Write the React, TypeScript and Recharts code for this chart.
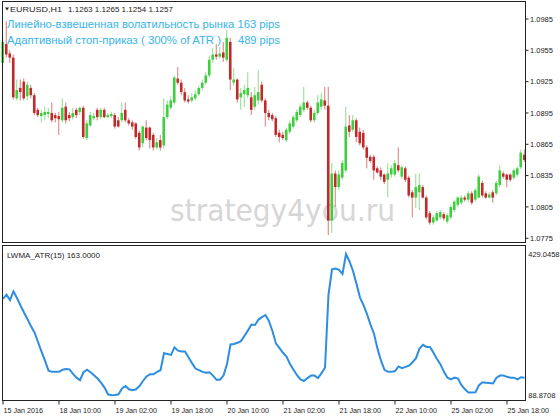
import { ComposedChart, Bar, Line, XAxis, YAxis } from 'recharts';

// EURUSD H1, one entry per bar (bar 0 = 15 Jan 18:00)
const OPEN = [
  1.0943, 1.0961, 1.0952, 1.0948, 1.0909, 1.0919, 1.0925, 1.0911, 1.0919, 1.0912,
  1.0898, 1.0892, 1.0893, 1.0894, 1.0895, 1.0893, 1.0892, 1.0888, 1.0901, 1.0893,
  1.0891, 1.0898, 1.0896, 1.0900, 1.0871, 1.0883, 1.0890, 1.0898, 1.0891, 1.0898,
  1.0891, 1.0892, 1.0893, 1.0888, 1.0888, 1.0898, 1.0888, 1.0886, 1.0885, 1.0876,
  1.0866, 1.0881, 1.0881, 1.0874, 1.0862, 1.0869, 1.0864, 1.0891, 1.0900, 1.0905,
  1.0928, 1.0924, 1.0915, 1.0908, 1.0907, 1.0909, 1.0913, 1.0919, 1.0924, 1.0931,
  1.0946, 1.0951, 1.0949, 1.0953, 1.0946, 1.0963, 1.0924, 1.0927, 1.0910, 1.0913,
  1.0912, 1.0910, 1.0901, 1.0907, 1.0922, 1.0907, 1.0895, 1.0893, 1.0890, 1.0876,
  1.0874, 1.0869, 1.0877, 1.0882, 1.0888, 1.0893, 1.0898, 1.0905, 1.0900, 1.0888,
  1.0895, 1.0901, 1.0907, 1.0902, 1.0792, 1.0837, 1.0824, 1.0833, 1.0840, 1.0883,
  1.0879, 1.0888, 1.0877, 1.0876, 1.0862, 1.0853, 1.0853, 1.0842, 1.0840, 1.0836,
  1.0831, 1.0836, 1.0836, 1.0845, 1.0834, 1.0842, 1.0833, 1.0819, 1.0814, 1.0819,
  1.0824, 1.0814, 1.0799, 1.0790, 1.0792, 1.0795, 1.0798, 1.0791, 1.0795, 1.0802,
  1.0807, 1.0809, 1.0814, 1.0812, 1.0818, 1.0812, 1.0814, 1.0828, 1.0818, 1.0814,
  1.0819, 1.0818, 1.0826, 1.0837, 1.0836, 1.0836, 1.0833, 1.0836, 1.0843, 1.0855,
];

const HIGH = [
  1.0968, 1.0983, 1.0955, 1.0951, 1.0927, 1.0927, 1.0928, 1.0925, 1.0922, 1.0914,
  1.0900, 1.0898, 1.0901, 1.0900, 1.0905, 1.0895, 1.0896, 1.0909, 1.0905, 1.0896,
  1.0900, 1.0900, 1.0901, 1.0902, 1.0888, 1.0896, 1.0895, 1.0900, 1.0900, 1.0900,
  1.0895, 1.0896, 1.0895, 1.0891, 1.0905, 1.0905, 1.0890, 1.0888, 1.0886, 1.0878,
  1.0883, 1.0888, 1.0882, 1.0876, 1.0871, 1.0874, 1.0909, 1.0907, 1.0911, 1.0931,
  1.0939, 1.0927, 1.0919, 1.0912, 1.0914, 1.0917, 1.0921, 1.0927, 1.0934, 1.0950,
  1.0957, 1.0961, 1.0958, 1.0963, 1.0975, 1.0967, 1.0938, 1.0928, 1.0919, 1.0922,
  1.0934, 1.0915, 1.0920, 1.0936, 1.0925, 1.0909, 1.0898, 1.0895, 1.0892, 1.0879,
  1.0877, 1.0881, 1.0888, 1.0893, 1.0898, 1.0903, 1.0920, 1.0907, 1.0902, 1.0898,
  1.0912, 1.0914, 1.0920, 1.0920, 1.0847, 1.0840, 1.0840, 1.0850, 1.0901, 1.0893,
  1.0893, 1.0890, 1.0881, 1.0879, 1.0864, 1.0855, 1.0855, 1.0844, 1.0843, 1.0837,
  1.0847, 1.0845, 1.0850, 1.0862, 1.0845, 1.0844, 1.0835, 1.0821, 1.0837, 1.0837,
  1.0826, 1.0816, 1.0801, 1.0797, 1.0801, 1.0802, 1.0800, 1.0799, 1.0807, 1.0812,
  1.0815, 1.0816, 1.0816, 1.0820, 1.0820, 1.0823, 1.0836, 1.0830, 1.0820, 1.0819,
  1.0821, 1.0830, 1.0845, 1.0839, 1.0837, 1.0837, 1.0842, 1.0844, 1.0860, 1.0860,
];

const LOW = [
  1.0941, 1.0948, 1.0943, 1.0908, 1.0907, 1.0907, 1.0907, 1.0907, 1.0909, 1.0893,
  1.0891, 1.0886, 1.0888, 1.0890, 1.0886, 1.0886, 1.0874, 1.0886, 1.0885, 1.0887,
  1.0889, 1.0890, 1.0893, 1.0870, 1.0869, 1.0882, 1.0888, 1.0888, 1.0889, 1.0890,
  1.0890, 1.0890, 1.0880, 1.0881, 1.0886, 1.0886, 1.0883, 1.0879, 1.0870, 1.0859,
  1.0862, 1.0869, 1.0861, 1.0859, 1.0860, 1.0859, 1.0861, 1.0889, 1.0898, 1.0903,
  1.0922, 1.0912, 1.0905, 1.0904, 1.0905, 1.0907, 1.0911, 1.0917, 1.0922, 1.0929,
  1.0943, 1.0946, 1.0947, 1.0944, 1.0944, 1.0917, 1.0921, 1.0905, 1.0898, 1.0901,
  1.0909, 1.0893, 1.0898, 1.0903, 1.0905, 1.0882, 1.0888, 1.0887, 1.0872, 1.0867,
  1.0869, 1.0867, 1.0875, 1.0880, 1.0886, 1.0891, 1.0896, 1.0898, 1.0886, 1.0886,
  1.0893, 1.0898, 1.0898, 1.0778, 1.0780, 1.0805, 1.0821, 1.0831, 1.0838, 1.0872,
  1.0877, 1.0867, 1.0864, 1.0860, 1.0842, 1.0847, 1.0831, 1.0837, 1.0831, 1.0827,
  1.0814, 1.0833, 1.0834, 1.0838, 1.0832, 1.0829, 1.0814, 1.0795, 1.0804, 1.0802,
  1.0813, 1.0793, 1.0788, 1.0788, 1.0791, 1.0793, 1.0792, 1.0789, 1.0793, 1.0800,
  1.0805, 1.0807, 1.0810, 1.0810, 1.0807, 1.0810, 1.0813, 1.0814, 1.0813, 1.0813,
  1.0809, 1.0816, 1.0824, 1.0832, 1.0824, 1.0829, 1.0831, 1.0834, 1.0841, 1.0848,
];

const CLOSE = [
  1.0963, 1.0951, 1.0948, 1.0910, 1.0917, 1.0915, 1.0909, 1.0922, 1.0912, 1.0895,
  1.0893, 1.0895, 1.0896, 1.0896, 1.0888, 1.0890, 1.0889, 1.0900, 1.0888, 1.0890,
  1.0895, 1.0893, 1.0900, 1.0872, 1.0885, 1.0893, 1.0892, 1.0891, 1.0898, 1.0891,
  1.0893, 1.0894, 1.0882, 1.0882, 1.0895, 1.0888, 1.0885, 1.0882, 1.0872, 1.0862,
  1.0882, 1.0871, 1.0869, 1.0862, 1.0867, 1.0862, 1.0891, 1.0903, 1.0907, 1.0929,
  1.0924, 1.0915, 1.0907, 1.0906, 1.0910, 1.0913, 1.0919, 1.0924, 1.0931, 1.0946,
  1.0951, 1.0949, 1.0952, 1.0948, 1.0967, 1.0927, 1.0927, 1.0908, 1.0914, 1.0917,
  1.0919, 1.0898, 1.0912, 1.0915, 1.0907, 1.0895, 1.0891, 1.0889, 1.0874, 1.0872,
  1.0871, 1.0879, 1.0885, 1.0891, 1.0896, 1.0901, 1.0905, 1.0900, 1.0888, 1.0895,
  1.0905, 1.0908, 1.0902, 1.0792, 1.0837, 1.0824, 1.0836, 1.0847, 1.0882, 1.0877,
  1.0888, 1.0872, 1.0866, 1.0862, 1.0852, 1.0849, 1.0840, 1.0838, 1.0834, 1.0829,
  1.0837, 1.0842, 1.0847, 1.0840, 1.0843, 1.0831, 1.0816, 1.0814, 1.0824, 1.0826,
  1.0814, 1.0795, 1.0790, 1.0795, 1.0799, 1.0800, 1.0794, 1.0797, 1.0805, 1.0810,
  1.0814, 1.0814, 1.0812, 1.0818, 1.0809, 1.0821, 1.0834, 1.0816, 1.0814, 1.0817,
  1.0814, 1.0828, 1.0840, 1.0834, 1.0831, 1.0831, 1.0840, 1.0842, 1.0857, 1.0850,
];

// LWMA_ATR(15), in points
const LWMA_ATR = [
  321, 331, 318, 339, 323, 305, 288, 272, 255, 240,
  217, 194, 172, 148, 145, 145, 145, 150, 152, 151,
  140, 131, 125, 144, 150, 144, 137, 129, 119, 107,
  91, 88.87, 89.5, 91, 105, 111, 103, 101, 103, 111,
  123, 134, 139, 139, 145, 149, 190, 188, 186, 204,
  196, 194, 194, 180, 166, 153, 149, 145, 143, 144,
  136, 126, 126, 136, 164, 211, 212, 215, 219, 232,
  245, 259, 258, 271, 277, 282, 267, 243, 213, 202,
  191, 182, 164, 150, 137, 127, 123, 130, 136, 136,
  130, 142, 155, 331, 392, 394, 391, 381, 429.05, 411,
  388, 357, 324, 306, 284, 259, 237, 201, 172, 150,
  145, 145, 147, 158, 154, 157, 160, 168, 178, 201,
  210, 205, 205, 191, 176, 163, 145, 131, 127, 131,
  129, 113, 103, 95, 95, 96, 113, 120, 119, 118,
  117, 131, 136, 136, 133, 131, 131, 127, 132, 131,
];

const PRICE_TICKS = [1.0775, 1.0805, 1.0835, 1.0865, 1.0895, 1.0925, 1.0955, 1.0985];
const ATR_TICKS = [88.8708, 429.0458];
const TIME_TICK_BARS = [0, 16, 32, 48, 64, 80, 96, 112, 128, 144];
const TIME_TICK_LABELS = [
  '15 Jan 2016', '18 Jan 10:00', '19 Jan 02:00', '19 Jan 18:00', '20 Jan 10:00',
  '21 Jan 02:00', '21 Jan 18:00', '22 Jan 10:00', '25 Jan 02:00', '25 Jan 18:00',
];

const UP_BODY = '#3dcf3d';
const UP_WICK = '#8ddc8d';
const DOWN_BODY = '#c2292a';
const DOWN_WICK = '#d87c7a';
const INK = '#222';
const CYAN = '#38b4e6';
const FONT = '"Liberation Sans", Arial, sans-serif';

const bars = OPEN.map((open, i) => ({
  i,
  open,
  high: HIGH[i],
  low: LOW[i],
  close: CLOSE[i],
  atr: LWMA_ATR[i],
}));

function Candle(props: any) {
  const { x, y, width, height, payload } = props;
  if (!payload) return null;
  const { open, close, high, low } = payload;
  const top = Math.min(y, y + height);
  const bottom = Math.max(y, y + height);
  const k = (bottom - top) / (high - low || 1);
  const yOpen = top + (high - open) * k;
  const yClose = top + (high - close) * k;
  const up = close >= open;
  const cx = x + width / 2;
  return (
    <g>
      <line x1={cx} x2={cx} y1={top} y2={bottom} stroke={up ? UP_WICK : DOWN_WICK} strokeWidth={1} />
      <rect
        x={cx - 1.3}
        y={Math.min(yOpen, yClose)}
        width={2.6}
        height={Math.max(Math.abs(yClose - yOpen), 1)}
        fill={up ? UP_BODY : DOWN_BODY}
      />
    </g>
  );
}

function PriceTick({ x, y, payload }: any) {
  return (
    <g>
      <line x1={x - 0.75} x2={x + 2.25} y1={y} y2={y} stroke={INK} />
      <text x={x + 3.75} y={y + 2.8} fontSize={7.5} fill={INK} fontFamily={FONT}>
        {Number(payload.value).toFixed(4)}
      </text>
    </g>
  );
}

function AtrTick({ x, y, payload }: any) {
  return (
    <text x={x + 2} y={y + 2.8} fontSize={7.5} fill={INK} fontFamily={FONT}>
      {Number(payload.value).toFixed(4)}
    </text>
  );
}

function TimeTick({ x, y, payload }: any) {
  const idx = TIME_TICK_BARS.indexOf(payload.value);
  return (
    <g>
      <line x1={x} x2={x} y1={y} y2={y + 4} stroke={INK} />
      <text x={x + 0.5} y={y + 12} fontSize={7.2} fill={INK} fontFamily={FONT}>
        {TIME_TICK_LABELS[idx]}
      </text>
    </g>
  );
}

export default function App() {
  return (
    <div
      style={{
        position: 'absolute',
        left: 0,
        top: 0,
        width: 560,
        height: 420,
        background: '#fff',
        overflow: 'hidden',
        fontFamily: FONT,
      }}
    >
      {/* watermark behind the candles */}
      <svg width={560} height={420} style={{ position: 'absolute', left: 0, top: 0 }}>
        <text
          x={170}
          y={221}
          fontSize={30}
          textLength={225}
          lengthAdjust="spacingAndGlyphs"
          fill="#d6d6d6"
          fontFamily='"DejaVu Sans", sans-serif'
        >
          strategy4you.ru
        </text>
      </svg>

      <div style={{ position: 'absolute', left: 0, top: 0 }}>
        <ComposedChart
          width={560}
          height={245}
          data={bars}
          margin={{ top: 2, right: 0, bottom: 3, left: 1.25 }}
          barCategoryGap={0}
        >
          <XAxis dataKey="i" hide />
          <YAxis
            orientation="right"
            width={33.75}
            domain={[1.07714, 1.10013]}
            ticks={PRICE_TICKS}
            interval={0}
            allowDataOverflow
            axisLine={false}
            tickLine={false}
            tickSize={0}
            tickMargin={0}
            tick={(p: any) => <PriceTick {...p} />}
          />
          <Bar
            dataKey={(d: any) => [d.low, d.high]}
            barSize={3}
            shape={(p: any) => <Candle {...p} />}
            isAnimationActive={false}
          />
        </ComposedChart>
      </div>

      <div style={{ position: 'absolute', left: 0, top: 245 }}>
        <ComposedChart
          width={560}
          height={175}
          data={bars}
          margin={{ top: 0.5, right: 0, bottom: 0, left: 1.25 }}
        >
          <XAxis
            dataKey="i"
            type="number"
            domain={[-0.5, 149.5]}
            ticks={TIME_TICK_BARS}
            interval={0}
            allowDataOverflow
            height={19.5}
            axisLine={false}
            tickLine={false}
            tickSize={0}
            tickMargin={0}
            tick={(p: any) => <TimeTick {...p} />}
          />
          <YAxis
            orientation="right"
            width={33.75}
            domain={[76, 449.5]}
            ticks={ATR_TICKS}
            interval={0}
            allowDataOverflow
            axisLine={false}
            tickLine={false}
            tickSize={0}
            tickMargin={0}
            tick={(p: any) => <AtrTick {...p} />}
          />
          <Line
            dataKey="atr"
            type="linear"
            stroke="#2d8ee0"
            strokeWidth={2}
            dot={false}
            isAnimationActive={false}
          />
        </ComposedChart>
      </div>

      {/* frames and terminal captions */}
      <svg
        width={560}
        height={420}
        style={{ position: 'absolute', left: 0, top: 0, pointerEvents: 'none' }}
      >
        <rect x={2.5} y={1.5} width={523} height={241} fill="none" stroke={INK} />
        <rect x={2.5} y={245.5} width={523} height={155} fill="none" stroke={INK} />

        <polygon points="5,7.5 9,7.5 7,10.5" fill={INK} />
        <text x={10} y={12} fontSize={8} fill={INK} fontFamily={FONT} textLength={52} lengthAdjust="spacingAndGlyphs">
          EURUSD,H1
        </text>
        <text x={68} y={12} fontSize={8} fill={INK} fontFamily={FONT} textLength={105} lengthAdjust="spacingAndGlyphs">
          1.1263 1.1265 1.1254 1.1257
        </text>

        <text x={7} y={28} fontSize={11} fill={CYAN} fontFamily={FONT} textLength={273} lengthAdjust="spacingAndGlyphs">
          Линейно-взвешенная волатильность рынка 163 pips
        </text>
        <text x={7} y={43.5} fontSize={11} fill={CYAN} fontFamily={FONT} textLength={214} lengthAdjust="spacingAndGlyphs">
          Адаптивный стоп-приказ ( 300% of ATR )
        </text>
        <text x={238} y={43.5} fontSize={11} fill={CYAN} fontFamily={FONT} textLength={42} lengthAdjust="spacingAndGlyphs">
          489 pips
        </text>

        <text x={7} y={258} fontSize={8} fill={INK} fontFamily={FONT} textLength={93} lengthAdjust="spacingAndGlyphs">
          LWMA_ATR(15) 163.0000
        </text>
      </svg>
    </div>
  );
}
